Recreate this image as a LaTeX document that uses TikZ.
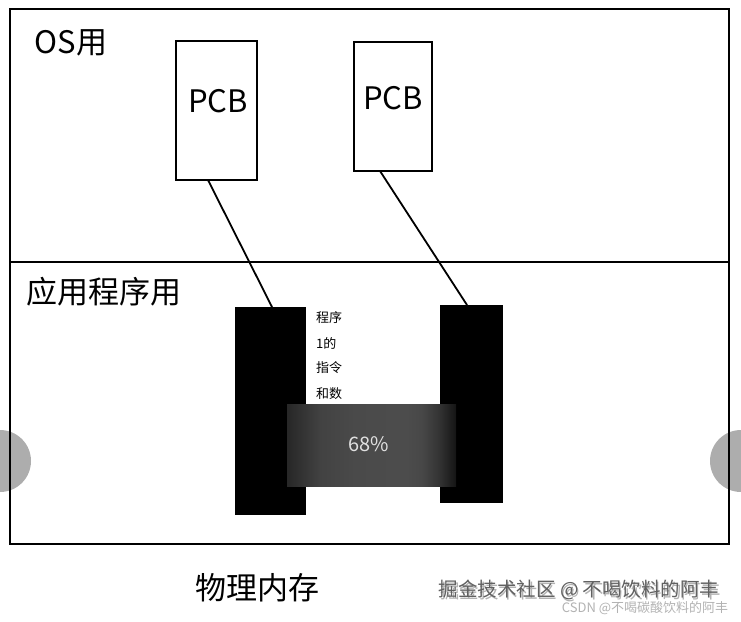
\documentclass[tikz,border=0pt]{standalone}
\usepackage{fontspec}
\setmainfont{Noto Sans CJK SC}
\usetikzlibrary{calc}
\pgfdeclarehorizontalshading{bandshade}{100bp}{
  color(0bp)=(black!88);
  color(22bp)=(black!88);
  color(35bp)=(black!74);
  color(45bp)=(black!71);
  color(60bp)=(black!70);
  color(65bp)=(black!72);
  color(70bp)=(black!80);
  color(75bp)=(black!92);
  color(100bp)=(black!95)}
\begin{document}
\begin{tikzpicture}[x=1pt,y=-1pt,
  frame/.style={draw=black,line width=2pt},
  pcbbox/.style={draw=black,line width=1.8pt,fill=white,anchor=north west,inner sep=0pt},
  blk/.style={fill=black,draw=none},
  link/.style={line width=1.8pt},
  big/.style={font=\fontsize{31}{34}\selectfont},
  small/.style={font=\fontsize{13}{14}\selectfont,anchor=west,inner sep=0pt}]
\useasboundingbox (0,0) rectangle (741,621);
% gray side discs
\fill[black!32] (0,461) circle (31);
\fill[black!32] (741,461) circle (31);
% frame
\node[frame,minimum width=719pt,minimum height=535pt,inner sep=0pt,anchor=north west] (outer) at (9,8) {};
\coordinate (dl) at (9,262);
\coordinate (dr) at (728,262);
\draw[line width=2pt] (dl) -- (dr);
% labels
\node[big] (os) at (71,43) {OS用};
\node[big] (app) at (104,292) {应用程序用};
% PCB boxes
\node[pcbbox,minimum width=81pt,minimum height=139pt] (p1) at (175,40) {};
\node[big] at (218,101) {PCB};
\node[pcbbox,minimum width=78pt,minimum height=129pt] (p2) at (353,41) {};
\node[big] at (393,98) {PCB};
% black blocks
\node[blk,minimum width=71pt,minimum height=208pt,inner sep=0pt,anchor=north west] (b1) at (235,307) {};
\node[blk,minimum width=63pt,minimum height=198pt,inner sep=0pt,anchor=north west] (b2) at (440,305) {};
% links
\coordinate (l1s) at (208,180);
\coordinate (l2s) at (380,171);
\draw[link] (l1s) -- (272,307);
\draw[link] (l2s) -- (467,305);
% texts
\node[small] (t1) at (316,318) {程序};
\node[small] (t2) at (316,343) {1的};
\node[small] (t3) at (316,368) {指令};
\node[small] (t4) at (316,394) {和数};
% band
\shade[shading=bandshade] (287,404) rectangle (456,486);
\node[text=white!88!black,font=\fontsize{20}{22}\selectfont] (pct) at (369,444) {68\%};
% bottom label
\node[big] (mem) at (257,588) {物理内存};
% watermarks
\node[text=black!30,font=\fontsize{19.5}{21}\selectfont,inner sep=0pt] at (580.5,591.5) {掘金技术社区 @ 不喝饮料的阿丰};
\node[text=black!62,font=\fontsize{19.5}{21}\selectfont,inner sep=0pt] (wm) at (579,590) {掘金技术社区 @ 不喝饮料的阿丰};
\node[text=black!30,font=\fontsize{13}{14}\selectfont,inner sep=0pt] (csdn) at (645,608) {CSDN @不喝碳酸饮料的阿丰};
\end{tikzpicture}
\end{document}
